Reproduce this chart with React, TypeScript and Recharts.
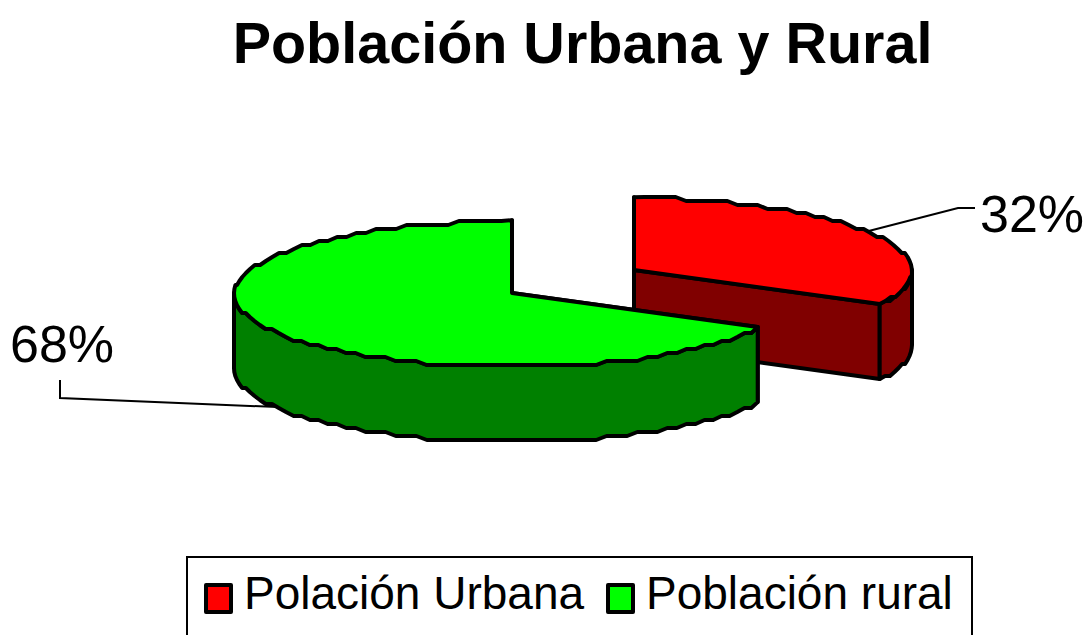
import { PieChart, Pie, Legend } from "recharts";

const categories = ["Polación Urbana", "Población rural"];
const shares = [32, 68];
const topColors = ["#ff0000", "#00ff00"];
const wallColors = ["#800000", "#008000"];

// how far each slice is pulled out of the pie, in px
const explodeX = [61, -61];
const explodeY = [-11, 12];
const labelX = [980, 10];
const labelY = [232, 362];
const leaders = [
  [[958, 208], [975, 208]],
  [[60, 398], [60, 380]],
];

const FONT = "'Liberation Sans', Arial, sans-serif";
const SQUASH = 0.262; // ellipse height / width
const DEPTH = 75;
const SNAP_Y = 4;
const SKEW = 3.5; // tilted pies foreshorten the angles a bit

const rows = categories.map((name, i) => ({
  name,
  value: shares[i],
  fill: topColors[i],
  wall: wallColors[i],
  index: i,
}));

const tilt = (deg: number) => deg - SKEW * Math.sin((2 * (deg - 90) * Math.PI) / 180);

// the rim is a coarse, slightly stair-stepped polyline like the old office charts
function rim(cx: number, cy: number, r: number, from: number, to: number) {
  const pts: number[][] = [];
  const steps = Math.max(2, Math.ceil(Math.abs(from - to) / 2.5));
  for (let i = 0; i <= steps; i++) {
    const a = (tilt(from + ((to - from) * i) / steps) * Math.PI) / 180;
    const x = cx + r * Math.cos(a);
    const y = cy - r * SQUASH * Math.sin(a);
    if (i === 0 || i === steps) pts.push([x, y]);
    else pts.push([x, Math.round(y / SNAP_Y) * SNAP_Y + 1]);
  }
  return pts;
}

const toPath = (pts: number[][]) =>
  "M" + pts.map((p) => `${p[0].toFixed(1)},${p[1].toFixed(1)}`).join("L") + "Z";

function Slice3D(props: any) {
  const { cx, cy, outerRadius, startAngle, endAngle, payload } = props;
  const i = payload.index;
  const x = cx + explodeX[i];
  const y = cy + explodeY[i];
  const r = outerRadius;
  const top = rim(x, y, r, startAngle, endAngle);
  const first = top[0];
  const last = top[top.length - 1];
  const wallFor = (p: number[]) => [[x, y], p, [p[0], p[1] + DEPTH], [x, y + DEPTH]];

  // outer wall only exists on the front half of the ellipse
  const hi = Math.min(0, startAngle);
  const lo = Math.max(-180, endAngle);
  const front = hi > lo ? rim(x, y, r, hi, lo) : [];
  const frontWall = [...front, ...[...front].reverse().map((p) => [p[0], p[1] + DEPTH])];

  const common = { stroke: "#000", strokeWidth: 4, strokeLinejoin: "round" as const };
  return (
    <g>
      <path d={toPath(wallFor(first))} fill={payload.wall} {...common} />
      <path d={toPath(wallFor(last))} fill={payload.wall} {...common} />
      {front.length > 0 && <path d={toPath(frontWall)} fill={payload.wall} {...common} />}
      <path d={toPath([[x, y], ...top])} fill={payload.fill} {...common} />
    </g>
  );
}

function PercentLabel(props: any) {
  const { cx, cy, outerRadius, midAngle, payload } = props;
  const i = payload.index;
  const a = (midAngle * Math.PI) / 180;
  const ax = cx + explodeX[i] + outerRadius * Math.cos(a);
  const s = Math.sin(a);
  const ay = cy + explodeY[i] - outerRadius * SQUASH * s + (s < 0 ? DEPTH : 0);
  const line = [[ax, ay], ...leaders[i]].map((p) => p.join(",")).join(" ");
  return (
    <g>
      <polyline points={line} fill="none" stroke="#000" strokeWidth={2} />
      <text x={labelX[i]} y={labelY[i]} fontFamily={FONT} fontSize={52} fill="#000">
        {payload.value}%
      </text>
    </g>
  );
}

function LegendBox({ payload }: any) {
  return (
    <div
      style={{
        boxSizing: "border-box",
        width: 787,
        height: 90,
        border: "2px solid #000",
        background: "#fff",
        position: "relative",
        fontFamily: FONT,
        fontSize: 46,
        lineHeight: "46px",
        color: "#000",
      }}
    >
      {(payload ?? []).map((item: any, i: number) => (
        <div key={item.value}>
          <span
            style={{
              position: "absolute",
              boxSizing: "border-box",
              left: i === 0 ? 16 : 418,
              top: 25,
              width: 29,
              height: 31,
              background: item.color,
              border: "4px solid #000",
              borderRadius: 2,
            }}
          />
          <span
            style={{
              position: "absolute",
              left: i === 0 ? 56 : 458,
              top: 12,
              whiteSpace: "nowrap",
            }}
          >
            {item.value}
          </span>
        </div>
      ))}
    </div>
  );
}

export default function App() {
  return (
    <div style={{ position: "absolute", left: 0, top: 0, width: 1089, height: 635, overflow: "hidden", background: "#fff" }}>
      <PieChart width={1089} height={635} margin={{ top: 0, right: 0, bottom: 0, left: 0 }}>
        <text x={582.5} y={63} textAnchor="middle" fontFamily={FONT} fontWeight="bold" fontSize={57.5} fill="#000">
          Población Urbana y Rural
        </text>
        <Pie
          data={rows}
          dataKey="value"
          nameKey="name"
          cx={573}
          cy={281}
          outerRadius={278}
          startAngle={90}
          endAngle={-270}
          paddingAngle={0}
          stroke="none"
          shape={Slice3D}
          activeShape={Slice3D}
          inactiveShape={Slice3D}
          label={PercentLabel}
          labelLine={false}
          isAnimationActive={false}
        />
        <Legend
          content={<LegendBox />}
          itemSorter={null}
          wrapperStyle={{ position: "absolute", left: 186, top: 556, width: 787, height: 90 }}
        />
      </PieChart>
    </div>
  );
}
